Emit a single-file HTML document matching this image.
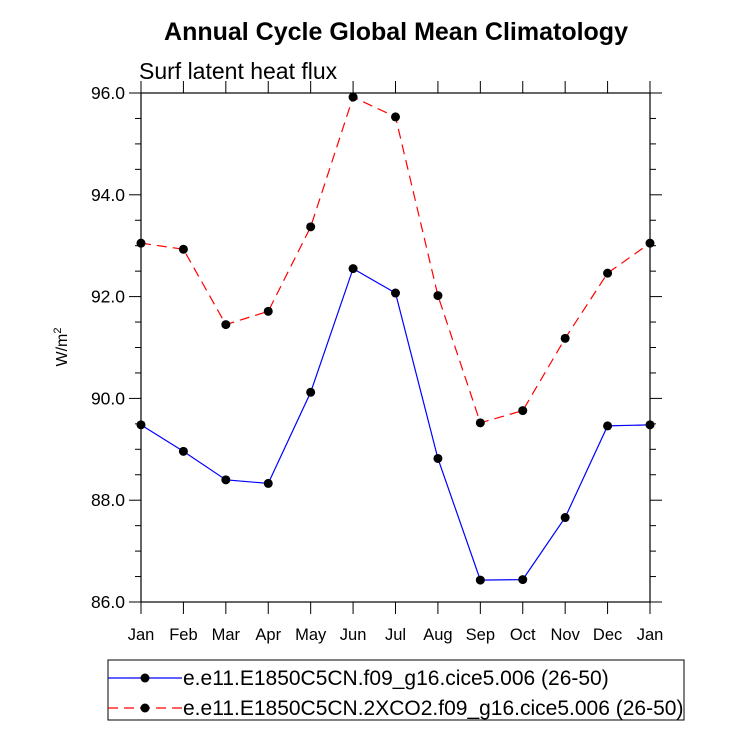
<!DOCTYPE html>
<html><head><meta charset="utf-8"><style>
body{margin:0;background:#fff}
svg text{font-family:"Liberation Sans",Arial,sans-serif}
</style></head><body>
<svg id="c" width="733" height="734" xmlns="http://www.w3.org/2000/svg">
<text x="396" y="40" text-anchor="middle" font-size="25" font-weight="bold">Annual Cycle Global Mean Climatology</text>
<text x="139" y="79" font-size="23">Surf latent heat flux</text>
<text transform="translate(67,347) rotate(-90)" text-anchor="middle" font-size="16">W/m<tspan dy="-6" font-size="11">2</tspan></text>
<g id="axes"></g><g id="series"></g>
<rect x="108" y="660" width="576" height="60" fill="none" stroke="#000" stroke-width="1"/>
<g>
<line x1="108" y1="678" x2="182" y2="678" stroke="#0000ff" stroke-width="1.2"/>
<circle cx="145" cy="678" r="4.5" fill="#000"/>
<text x="183" y="685" font-size="21">e.e11.E1850C5CN.f09_g16.cice5.006 (26-50)</text></g>
<g>
<line x1="108" y1="708" x2="182" y2="708" stroke="#ff0000" stroke-width="1.2" stroke-dasharray="10,6"/>
<circle cx="145" cy="708" r="4.5" fill="#000"/>
<text x="183" y="715" font-size="21">e.e11.E1850C5CN.2XCO2.f09_g16.cice5.006 (26-50)</text></g>
</svg>
<script>
const months=["Jan","Feb","Mar","Apr","May","Jun","Jul","Aug","Sep","Oct","Nov","Dec","Jan"];
const controlValues=[89.48,88.96,88.40,88.33,90.12,92.55,92.07,88.82,86.43,86.44,87.66,89.46,89.48];
const co2Values=[93.05,92.93,91.45,91.71,93.37,95.92,95.53,92.02,89.52,89.76,91.18,92.46,93.05];
const yTicks=[86,88,90,92,94,96];
const yTickLabels=["86.0","88.0","90.0","92.0","94.0","96.0"];
const L=141,R=650,T=93,B=602,yMin=86,yMax=96;
const NS="http://www.w3.org/2000/svg";
const xS=i=>L+i*(R-L)/(months.length-1);
const yS=v=>B-(v-yMin)/(yMax-yMin)*(B-T);
function mk(tag,a,p){const e=document.createElementNS(NS,tag);for(const k in a)e.setAttribute(k,a[k]);p.appendChild(e);return e;}
const ax=document.getElementById('axes');
const frame=mk('rect',{x:L,y:T,width:R-L,height:B-T,fill:'none',stroke:'#000','stroke-width':1.2},ax);


months.forEach((m,i)=>{const x=xS(i);
mk('line',{x1:x,y1:B,x2:x,y2:B+12,stroke:'#000'},ax);
mk('line',{x1:x,y1:T,x2:x,y2:T-12,stroke:'#000'},ax);
const t=mk('text',{x:x,y:B+38,'text-anchor':'middle','font-size':16.5},ax);t.textContent=m;

});
for(let v=yMin;v<=yMax+1e-9;v+=0.5){const y=yS(v);const major=Math.abs(v/2-Math.round(v/2))<1e-9;const len=major?12:6;
mk('line',{x1:L-len,y1:y,x2:L,y2:y,stroke:'#000'},ax);
mk('line',{x1:R,y1:y,x2:R+len,y2:y,stroke:'#000'},ax);}
yTicks.forEach((v,i)=>{const t=mk('text',{x:L-16,y:yS(v)+6,'text-anchor':'end','font-size':17.5},ax);t.textContent=yTickLabels[i];

});
const sg=document.getElementById('series');
function draw(vals,color,dash,name){const g=mk('g',{},sg);


mk('polyline',{points:vals.map((v,i)=>xS(i)+','+yS(v)).join(' '),fill:'none',stroke:color,'stroke-width':1.2,'stroke-dasharray':dash},g);
vals.forEach((v,i)=>{const c=mk('circle',{cx:xS(i),cy:yS(v),r:4.5,fill:'#000'},g);

});}
draw(controlValues,'#0000ff','none','series-control');
draw(co2Values,'#ff0000','10,6','series-2xco2');
</script>
</body></html>
